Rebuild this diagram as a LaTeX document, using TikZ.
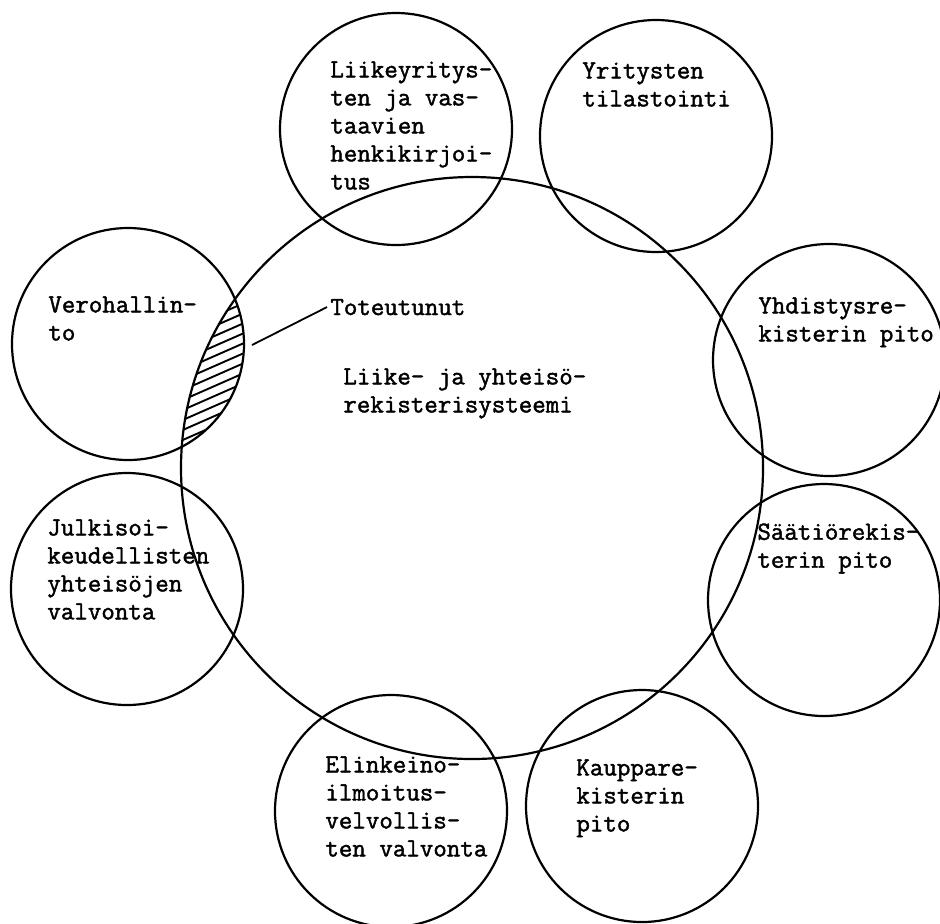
\documentclass[tikz,border=0pt]{standalone}
\usepackage{fontspec}
\newfontfamily\typewr[FakeBold=1.6]{Latin Modern Mono}
\usepackage{tikz}
\newcommand{\lblfont}{\fontsize{13.1}{14}\selectfont\typewr}
\tikzset{
  ring/.style={draw=black, circle, line width=1.1pt, inner sep=0pt, minimum size=116pt},
  lbl/.style={anchor=north west, align=left, inner sep=0pt, font=\lblfont},
  hatch/.style={line width=0.95pt}
}

\begin{document}
\begin{tikzpicture}[x=0.5pt, y=-0.5pt]
    \fill[white] (0,0) rectangle (940,923);
    \useasboundingbox (0,0) rectangle (940,923);
    % the system in the middle and the users round it
    \node[ring, minimum size=291pt] (lyr) at (472,468) {};
    \node[ring] (liike)   at (396,129) {};
    \node[ring] (yrit)    at (656,136) {};
    \node[ring] (vero)    at (128,344) {};
    \node[ring] (yhdis)   at (829,360) {};
    \node[ring] (julki)   at (127,589) {};
    \node[ring] (saatio)  at (824,600) {};
    \node[ring] (elin)    at (391,811) {};
    \node[ring] (kauppa)  at (642,806) {};
    % hatched overlap
    \begin{scope}
      \clip (vero.center) circle [radius=58pt];
      \clip (lyr.center) circle [radius=145.5pt];
      \foreach \yy in {290,300,...,480}
        \draw[hatch] (160,\yy) -- ++(100,-44);
    \end{scope}
    % labels
    \node[lbl] (tliike)  at (330,61)  {Liikeyritys-\\ten ja vas-\\taavien\\henkikirjoi-\\tus};
    \node[lbl] (tyrit)   at (582,62)  {Yritysten\\tilastointi};
    \node[lbl] (tvero)   at (48,296)  {Verohallin-\\to};
    \node[lbl] (tlyr)    at (343,368) {Liike- ja yhteisö-\\rekisterisysteemi};
    \node[lbl] (tyhdis)  at (758,297) {Yhdistysre-\\kisterin pito};
    \node[lbl] (tjulki)  at (47,519)  {Julkisoi-\\keudellisten\\yhteisöjen\\valvonta};
    \node[lbl] (tsaatio) at (757,523) {Säätiörekis-\\terin pito};
    \node[lbl] (telin)   at (325,756) {Elinkeino-\\ilmoitus-\\velvollis-\\ten valvonta};
    \node[lbl] (tkauppa) at (576,759) {Kauppare-\\kisterin\\pito};
    \node[lbl, anchor=base west, inner sep=1.5pt] (tot) at (327,315) {Toteutunut};
    \coordinate (hatchtip) at (252,345);
    \draw[line width=0.9pt] (hatchtip) -- (tot.west);
\end{tikzpicture}
\end{document}
